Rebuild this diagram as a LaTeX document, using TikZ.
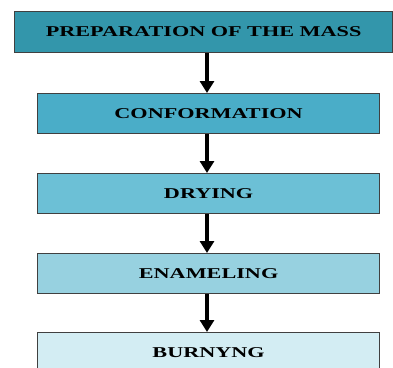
\documentclass[tikz,border=0pt]{standalone}
\usepackage{fontspec}
\setmainfont{Liberation Serif}
\usetikzlibrary{arrows.meta}
\definecolor{cA}{HTML}{3396AB}
\definecolor{cB}{HTML}{4AADC8}
\definecolor{cC}{HTML}{6CC0D6}
\definecolor{cD}{HTML}{97D1E0}
\definecolor{cE}{HTML}{D3EDF3}
\tikzset{
  stepbox/.style={draw=black!75, line width=1.2pt, inner sep=0pt, anchor=north west,
    font=\bfseries\fontsize{15}{15}\selectfont},
  flowarrow/.style={line width=3.2pt, -{Triangle[length=12pt,width=14pt]}},
}
\newcommand{\wide}[1]{\scalebox{1.48}[1]{#1}}
\begin{document}
\begin{tikzpicture}[x=1pt,y=-1pt]
\useasboundingbox (0,0) rectangle (393,367);
\node[stepbox, fill=cA, minimum width=378pt, minimum height=41pt] (s1) at (14,11) {\wide{PREPARATION OF THE MASS}};
\node[stepbox, fill=cB, minimum width=342pt, minimum height=40pt] (s2) at (37,93) {\wide{CONFORMATION}};
\node[stepbox, fill=cC, minimum width=342pt, minimum height=40pt] (s3) at (37,173) {\wide{DRYING}};
\node[stepbox, fill=cD, minimum width=342pt, minimum height=40pt] (s4) at (37,253) {\wide{ENAMELING}};
\node[stepbox, fill=cE, minimum width=342pt, minimum height=40pt] (s5) at (37,332) {\wide{BURNYNG}};
\draw[flowarrow] (s1.south -| 207,0) -- (s2.north -| 207,0);
\draw[flowarrow] (s2.south -| 207,0) -- (s3.north -| 207,0);
\draw[flowarrow] (s3.south -| 207,0) -- (s4.north -| 207,0);
\draw[flowarrow] (s4.south -| 207,0) -- (s5.north -| 207,0);
\end{tikzpicture}
\end{document}
